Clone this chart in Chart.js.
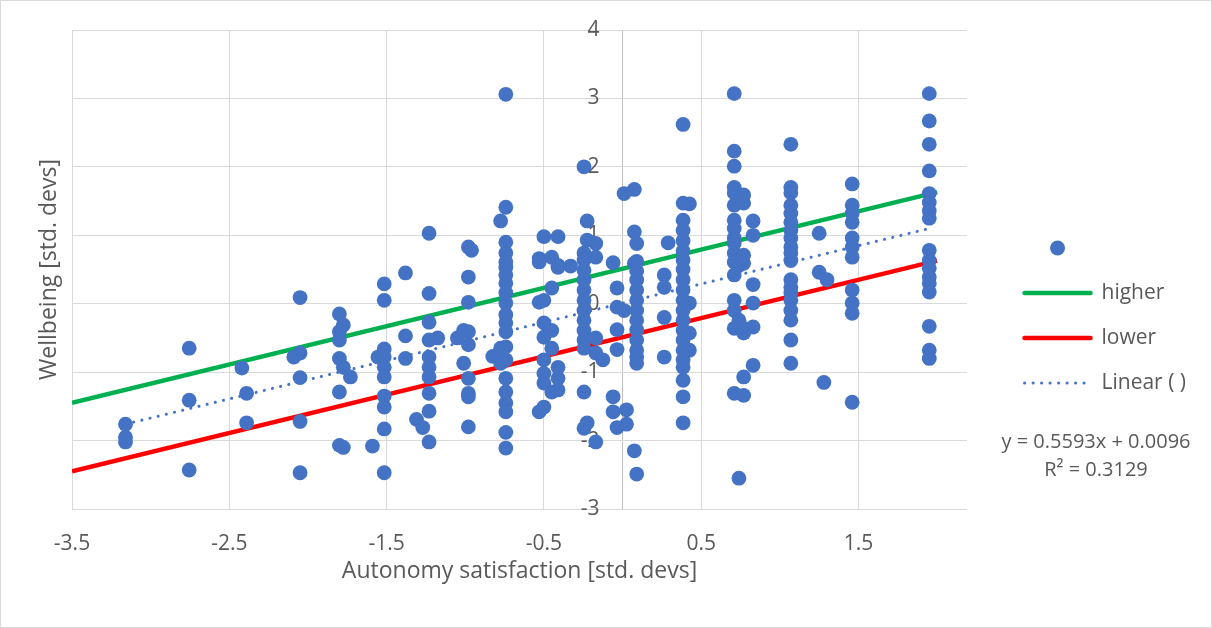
<!DOCTYPE html>
<html>
<head>
<meta charset="utf-8">
<script src="https://cdn.jsdelivr.net/npm/chart.js@4"></script>
<style>
  body { margin: 0; background: #fff; }
  #frame { width: 1212px; height: 628px; box-sizing: border-box; border: 1px solid #d9d9d9; }
  canvas { display: block; }
</style>
</head>
<body>
<div id="frame"><canvas id="chart" width="1210" height="626"></canvas></div>
<script>
// each entry: [autonomy value, wellbeing values at that autonomy value]
const columns = [
  [-3.16, [-1.76, -1.95, -2.02]],
  [-2.755, [-0.65, -1.41, -2.43]],
  [-2.42, [-0.94]],
  [-2.39, [-1.31, -1.74]],
  [-2.09, [-0.78]],
  [-2.05, [0.09, -0.72, -1.08, -1.72, -2.47]],
  [-1.80, [-0.15, -0.41, -0.53, -0.80, -1.29, -2.07]],
  [-1.775, [-0.31, -0.93, -2.10]],
  [-1.73, [-1.07]],
  [-1.59, [-2.08]],
  [-1.555, [-0.78]],
  [-1.515, [0.29, 0.05, -0.66, -0.78, -0.93, -1.07, -1.35, -1.51, -1.83, -2.47]],
  [-1.38, [0.45, -0.47, -0.80]],
  [-1.31, [-1.69]],
  [-1.27, [-1.81]],
  [-1.23, [1.03, 0.15, -0.27, -0.53, -0.78, -0.93, -1.07, -1.31, -1.57, -2.02]],
  [-1.175, [-0.50]],
  [-1.05, [-0.50]],
  [-1.01, [-0.39, -0.87]],
  [-0.98, [0.83, 0.39, 0.02, -0.41, -0.60, -1.09, -1.31, -1.36, -1.80]],
  [-0.96, [0.78]],
  [-0.825, [-0.77]],
  [-0.775, [1.21, -0.65, -0.87]],
  [-0.742, [3.06, 1.41, 0.90, 0.74, 0.61, 0.53, 0.42, 0.30, 0.16, 0.01, -0.16, -0.28, -0.41, -0.63, -0.82, -1.09, -1.29, -1.45, -1.58, -1.88, -2.11]],
  [-0.53, [0.66, 0.61, 0.02, -1.58]],
  [-0.50, [0.98, 0.05, -0.28, -0.49, -0.82, -1.02, -1.16, -1.51]],
  [-0.45, [0.68, 0.23, -0.39, -0.65, -1.29]],
  [-0.41, [0.98, 0.56, 0.53, -0.93, -1.09, -1.26]],
  [-0.33, [0.55]],
  [-0.245, [2.0, 0.74, 0.64, 0.49, 0.35, 0.2, 0.05, -0.1, -0.24, -0.39, -0.53, -0.65, -1.29, -1.82]],
  [-0.225, [1.21, 0.93, -1.74]],
  [-0.17, [0.88, 0.68, -0.5, -0.72, -2.02]],
  [-0.125, [-0.82]],
  [-0.06, [0.60, -1.36, -1.58]],
  [-0.035, [0.23, -0.05, -0.38, -0.67, -1.81]],
  [0.01, [1.61, -0.1]],
  [0.025, [-1.55, -1.76]],
  [0.075, [1.67, 1.05, 0.59, -2.15]],
  [0.09, [0.88, 0.62, 0.48, 0.35, 0.2, 0.05, -0.1, -0.24, -0.38, -0.53, -0.68, -0.78, -0.87, -2.49]],
  [0.265, [0.42, 0.24, -0.2, -0.78]],
  [0.29, [0.89]],
  [0.385, [2.62, 1.47, 1.22, 1.07, 0.92, 0.77, 0.64, 0.5, 0.35, 0.2, 0.05, -0.1, -0.24, -0.39, -0.53, -0.68, -0.82, -0.93, -1.12, -1.36, -1.74]],
  [0.425, [1.46, 0.01, -0.43, -0.68]],
  [0.71, [3.07, 2.23, 2.01, 1.70, 1.62, 1.44, 1.22, 1.10, 0.96, 0.88, 0.74, 0.61, 0.42, 0.05, -0.1, -0.36, -1.31]],
  [0.74, [0.56, -0.24, -2.55]],
  [0.77, [1.59, 1.47, 0.71, 0.59, -0.36, -0.43, -1.07, -1.34]],
  [0.83, [1.21, 1.0, 0.28, 0.01, -0.34, -0.9]],
  [1.07, [2.33, 1.70, 1.62, 1.44, 1.32, 1.19, 1.07, 0.96, 0.83, 0.74, 0.63, 0.35, 0.24, 0.16, 0.05, -0.1, -0.24, -0.53, -0.87]],
  [1.25, [1.03, 0.46]],
  [1.28, [-1.15]],
  [1.30, [0.35]],
  [1.46, [1.75, 1.44, 1.32, 1.19, 0.96, 0.83, 0.68, 0.2, 0.01, -0.14, -1.44]],
  [1.95, [3.07, 2.67, 2.33, 1.94, 1.61, 1.48, 1.36, 1.25, 0.78, 0.63, 0.52, 0.39, 0.30, 0.17, -0.33, -0.68, -0.80]]
];

const bandX = [-3.5, 2.0];
const higherY = [-1.45, 1.63];
const lowerY = [-2.45, 0.63];
const trendX = [-3.16, 1.95];
const trendY = [-1.76, 1.10];

const xTicks = [-3.5, -2.5, -1.5, -0.5, 0, 0.5, 1.5];
const equation = ["y = 0.5593x + 0.0096", "R² = 0.3129"];

const BLUE = "#4472C4";
const GREEN = "#00B050";
const RED = "#FF0000";
const TEXT = "#595959";

Chart.defaults.font.family = "'Open Sans', sans-serif";
Chart.defaults.color = TEXT;

const points = columns.flatMap(([x, ys]) => ys.map(y => ({ x: x, y: y })));
const pairs = (xs, ys) => xs.map((x, i) => ({ x: x, y: ys[i] }));

// little pictures for the legend keys
function legendSample(kind, color) {
  const c = document.createElement("canvas");
  c.width = 71;
  c.height = 18;
  const g = c.getContext("2d");
  g.fillStyle = color;
  g.strokeStyle = color;
  if (kind === "dot") {
    g.beginPath();
    g.arc(35.5, 9, 7.5, 0, Math.PI * 2);
    g.fill();
  } else {
    g.lineCap = "round";
    g.lineWidth = kind === "dots" ? 3 : 4.5;
    if (kind === "dots") g.setLineDash([0.1, 8.4]);
    g.beginPath();
    g.moveTo(2.5, 9);
    g.lineTo(68.5, 9);
    g.stroke();
  }
  return c;
}

const samples = [
  legendSample("dot", BLUE),
  legendSample("line", GREEN),
  legendSample("line", RED),
  legendSample("dots", BLUE)
];

const equationText = {
  id: "equationText",
  afterDraw(chart) {
    const ctx = chart.ctx;
    ctx.save();
    ctx.font = "20px 'Open Sans'";
    ctx.fillStyle = TEXT;
    ctx.textAlign = "center";
    ctx.textBaseline = "middle";
    ctx.fillText(equation[0], 1095, 441);
    ctx.fillText(equation[1], 1095, 469);
    ctx.restore();
  }
};

const ctx = document.getElementById("chart").getContext("2d");
new Chart(ctx, {
  type: "scatter",
  data: {
    datasets: [
      {
        label: "",
        data: points,
        order: 0,
        pointRadius: 7.4,
        pointBackgroundColor: BLUE,
        pointBorderWidth: 0
      },
      {
        label: "higher",
        data: pairs(bandX, higherY),
        order: 1,
        showLine: true,
        pointRadius: 0,
        borderColor: GREEN,
        borderWidth: 4.5
      },
      {
        label: "lower",
        data: pairs(bandX, lowerY),
        order: 1,
        showLine: true,
        pointRadius: 0,
        borderColor: RED,
        borderWidth: 4.5
      },
      {
        label: "Linear ( )",
        data: pairs(trendX, trendY),
        order: 1,
        showLine: true,
        pointRadius: 0,
        borderColor: BLUE,
        borderWidth: 3,
        borderDash: [0.1, 8.3],
        borderCapStyle: "round"
      }
    ]
  },
  options: {
    responsive: false,
    animation: false,
    events: [],
    layout: { padding: { top: 29, right: 15, bottom: 26, left: 0 } },
    plugins: {
      tooltip: { enabled: false },
      legend: {
        position: "right",
        maxWidth: 400,
        labels: {
          usePointStyle: true,
          pointStyleWidth: 67,
          padding: 24,
          font: { size: 21 },
          color: TEXT,
          generateLabels: chart => chart.data.datasets.map((ds, i) => ({
            text: ds.label,
            pointStyle: samples[i],
            datasetIndex: i,
            hidden: false,
            lineWidth: 0,
            fontColor: TEXT
          }))
        }
      }
    },
    scales: {
      x: {
        type: "linear",
        min: -3.5,
        max: 2.19,
        afterBuildTicks: s => { s.ticks = xTicks.map(v => ({ value: v })); },
        afterFit: s => { s.height = 92; },
        grid: {
          color: c => (c.tick && c.tick.value === 0 ? "#bfbfbf" : "#d9d9d9"),
          drawTicks: false
        },
        border: { display: false },
        ticks: {
          autoSkip: false,
          maxRotation: 0,
          padding: 22,
          font: { size: 21 },
          callback: v => (v === 0 ? "" : v.toFixed(1))
        },
        title: {
          display: true,
          text: "Autonomy satisfaction [std. devs]",
          font: { size: 23 },
          padding: { top: 0, bottom: 16 }
        }
      },
      y: {
        type: "linear",
        min: -3,
        max: 4,
        position: { x: -0.147 },
        afterFit: s => { s.width = 0; },
        grid: { color: "#d9d9d9", drawTicks: false },
        border: { display: false },
        ticks: { stepSize: 1, font: { size: 21 } }
      },
      yTitle: {
        type: "linear",
        axis: "y",
        position: "left",
        grid: { display: false },
        border: { display: false },
        ticks: { display: false },
        afterFit: s => { s.width = 71; },
        title: {
          display: true,
          text: "Wellbeing [std. devs]",
          font: { size: 23 },
          padding: { top: 35, bottom: 0 }
        }
      },
      gap: {
        type: "linear",
        axis: "y",
        position: "right",
        grid: { display: false },
        border: { display: false },
        ticks: { display: false },
        afterFit: s => { s.width = 33; }
      }
    }
  },
  plugins: [equationText]
});
</script>
</body>
</html>
